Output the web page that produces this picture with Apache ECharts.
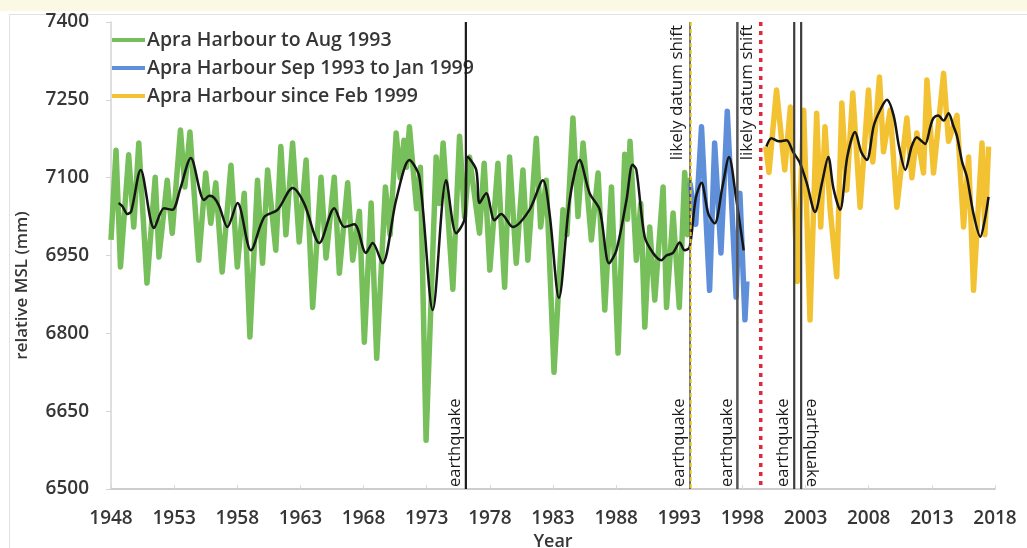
<!DOCTYPE html>
<html><head><meta charset="utf-8">
<script src="https://cdn.jsdelivr.net/npm/echarts@6/dist/echarts.min.js"></script>
<style>html,body{margin:0;padding:0;background:#fff}#c{width:1027px;height:548px}</style>
</head><body><div id="c"></div>
<script>
// ---------------- data ----------------
const X0 = 1948;
const xTickLabels = ['1948','1953','1958','1963','1968','1973','1978','1983','1988','1993','1998','2003','2008','2013','2018'];
const yTickLabels = ['6500','6650','6800','6950','7100','7250','7400'];
const seriesNames = ['Apra Harbour to Aug 1993','Apra Harbour Sep 1993 to Jan 1999','Apra Harbour since Feb 1999'];

const greenYears = [1948.0,1948.4,1948.75,1949.4,1949.8,1950.2,1950.85,1951.5,1951.8,1952.45,1952.85,1953.5,1953.85,1954.25,1954.95,1955.5,1955.9,1956.3,1956.8,1957.5,1958.0,1958.55,1959.0,1959.6,1960.0,1960.4,1961.05,1961.45,1961.85,1962.38,1962.9,1963.45,1963.97,1964.63,1965.03,1965.68,1966.08,1966.74,1967.14,1967.67,1968.06,1968.6,1969.04,1969.73,1970.1,1970.58,1970.9,1971.2,1971.4,1971.63,1972.2,1972.5,1972.95,1973.75,1974.0,1974.3,1975.07,1975.6,1976.0,1976.39,1977.18,1977.55,1978.0,1978.64,1979.17,1979.56,1980.09,1980.62,1981.01,1981.68,1982.02,1982.47,1983.08,1983.79,1984.1,1984.58,1984.98,1985.38,1986.04,1986.57,1987.1,1987.63,1988.15,1988.68,1988.9,1989.1,1989.6,1989.95,1990.27,1990.66,1991.06,1991.72,1991.99,1992.51,1993.0,1993.43,1993.65,1993.8];
const greenValues = [6980,7153,6928,7144,7005,7167,6897,7101,6947,7095,6993,7192,7082,7188,6941,7109,7012,7090,6918,7124,6928,7070,6793,7095,6935,7115,6960,7160,6990,7167,6976,7134,6850,7101,6945,7101,6916,7090,6941,7035,6783,7051,6752,7082,6990,7186,7100,7172,7120,7198,7040,7120,6594,7140,7050,7167,6885,7180,7024,7140,6993,7128,6922,7128,6889,7140,6935,7115,6941,7176,7005,7095,6725,7038,6990,7215,7025,7167,6980,7109,6845,7082,6762,7145,7020,7170,6941,7050,6812,7005,6864,7082,6850,7032,6850,7110,6990,7100];

const blueYears = [1993.85,1994.3,1994.76,1995.4,1995.8,1996.3,1996.8,1997.5,1997.8,1998.2,1998.35];
const blueValues = [7090,7010,7198,6883,7167,6955,7228,6870,7070,6826,6900];

const yellowYears = [1999.85,2000.1,2000.7,2001.35,2001.8,2002.35,2002.85,2003.35,2003.88,2004.2,2004.54,2004.94,2005.47,2005.87,2006.26,2006.74,2007.32,2007.98,2008.32,2008.85,2009.17,2009.7,2010.23,2011.02,2011.42,2011.81,2012.34,2012.61,2013.13,2013.93,2014.32,2014.99,2015.51,2015.91,2016.3,2016.97,2017.2,2017.49];
const yellowValues = [7160,7110,7269,7115,7236,6900,7230,6826,7224,7005,7198,7040,6909,7244,7076,7263,7043,7269,7130,7294,7150,7230,7043,7215,7100,7186,7109,7288,7109,7301,7170,7220,7005,7140,6883,7167,6990,7160];

const smoothYears = [1948.6,1948.9,1949.3,1949.6,1950.35,1951.41,1952.2,1952.86,1953.5,1954.32,1955.37,1955.8,1956.17,1956.57,1957.22,1958.02,1959.08,1960.13,1961.19,1962.38,1963.3,1964.5,1965.68,1966.47,1967.27,1968.19,1968.72,1969.5,1970.58,1971.63,1972.42,1973.48,1974.54,1975.33,1975.99,1976.25,1976.92,1977.18,1977.71,1978.37,1978.9,1979.82,1981.14,1982.2,1982.73,1983.47,1984.32,1985.11,1985.9,1986.7,1987.44,1988.02,1988.82,1989.3,1989.6,1990.26,1990.92,1991.58,1991.98,1992.5,1993.03,1993.43,1993.82,1994.3,1994.76,1995.3,1995.8,1996.4,1996.94,1997.5,1998.1,1999.0,1999.9,2000.3,2000.9,2001.5,2002.0,2002.56,2003.09,2003.75,2004.3,2004.8,2005.2,2005.73,2006.3,2006.92,2007.4,2007.85,2008.4,2008.9,2009.44,2009.97,2010.4,2010.9,2011.4,2011.81,2012.2,2012.47,2012.9,2013.13,2013.5,2013.93,2014.32,2014.7,2014.99,2015.4,2015.78,2016.3,2016.84,2017.2,2017.49];
const smoothValues = [7051,7045,7030,7035,7115,7003,7041,7038,7080,7138,7057,7065,7061,7045,7005,7051,6960,7024,7038,7080,7050,6974,7041,7005,7010,6955,6974,6935,7057,7134,7101,6845,7095,6993,7020,7140,7115,7051,7070,7018,7030,7005,7038,7095,7030,6868,7057,7134,7070,7038,6935,6960,7057,7125,7115,6986,6955,6941,6950,6955,6975,6960,6966,7060,7090,7030,7012,7080,7140,7060,6960,null,7160,7176,7170,7172,7150,7128,7090,7034,7090,7140,7080,7038,7140,7188,7150,7134,7200,7230,7250,7220,7160,7115,7160,7178,7170,7165,7200,7215,7220,7210,7224,7200,7180,7130,7101,7030,6986,7020,7063];

const quakeYears = [1976.1, 1993.85, 1997.6, 2002.1, 2002.65];
const quakeLabel = 'earthquake';
const datumYears = [1993.9, 1999.45];
const datumLabel = 'likely datum shift';

// ---------------- chart ----------------
const yMin = 6500, yMax = 7400, yStep = 150;
const pairs = (xs, ys) => xs.map((x, i) => [x - X0, ys[i] == null ? '-' : ys[i]]);
const FONT = '"Open Sans", "Liberation Sans", sans-serif';
const textColor = '#363636';

const quakeStyles = [
  {color: '#1a1a1a', width: 2.2, flip: false},
  {color: '#444', width: 1.5, flip: false},
  {color: '#555', width: 2.5, flip: false},
  {color: '#3c3c3c', width: 2.2, flip: false},
  {color: '#3c3c3c', width: 2.2, flip: true}
];
const datumStyles = [
  {color: '#e2c21a', width: 2, dash: [4, 3]},
  {color: '#e3263a', width: 3.5, dash: [4, 5]}
];

function renderQuake(params, api) {
  const i = params.dataIndex;
  const x = api.value(0);
  const top = api.coord([x, yMax]);
  const bot = api.coord([x, yMin]);
  const st = quakeStyles[i];
  return {
    type: 'group',
    children: [
      {type: 'line', shape: {x1: top[0], y1: top[1], x2: bot[0], y2: bot[1]},
       style: {stroke: st.color, lineWidth: st.width}},
      {type: 'text', x: top[0] + (st.flip ? 2 : -2), y: bot[1] - 2,
       rotation: st.flip ? -Math.PI / 2 : Math.PI / 2,
       style: {text: quakeLabel, font: '16.5px ' + FONT, fill: '#1a1a1a',
               align: st.flip ? 'right' : 'left', verticalAlign: 'bottom'}}
    ]
  };
}
function renderDatum(params, api) {
  const i = params.dataIndex;
  const x = api.value(0);
  const top = api.coord([x, yMax]);
  const bot = api.coord([x, yMin]);
  const st = datumStyles[i];
  return {
    type: 'group',
    children: [
      {type: 'line', shape: {x1: top[0], y1: top[1], x2: bot[0], y2: bot[1]},
       style: {stroke: st.color, lineWidth: st.width, lineDash: st.dash}},
      {type: 'text', x: top[0] - 5, y: top[1] + 3, rotation: Math.PI / 2,
       style: {text: datumLabel, font: '17px ' + FONT, fill: '#1a1a1a',
               align: 'right', verticalAlign: 'bottom'}}
    ]
  };
}

const rawLine = (name, xs, ys, color) => ({
  name, type: 'line', data: pairs(xs, ys), showSymbol: false, symbol: 'none',
  itemStyle: {color}, lineStyle: {color, width: 5.5, join: 'round'}, z: 2, silent: true
});

const chart = echarts.init(document.getElementById('c'));
chart.setOption({
  animation: false,
  backgroundColor: '#fff',
  graphic: [
    {type: 'rect', left: 0, top: 0, shape: {width: 1027, height: 11}, style: {fill: '#fbf8e4'}, z: -10},
    {type: 'rect', left: 7, top: 12, shape: {width: 1030, height: 545}, style: {fill: 'none', stroke: '#e2e2e2', lineWidth: 1}, z: -10}
  ],
  grid: {left: 111, right: 32, top: 22, bottom: 59, containLabel: false, outerBoundsMode: 'none'},
  legend: {
    data: seriesNames, orient: 'vertical', left: 112, top: 29, padding: 0,
    icon: 'rect', itemWidth: 33, itemHeight: 4, itemGap: 6,
    textStyle: {fontFamily: FONT, fontSize: 19.5, fontWeight: 600, color: textColor, lineHeight: 22, padding: [0, 0, 0, -3]}
  },
  xAxis: {
    type: 'value', min: 0, max: 70, interval: 5,
    name: 'Year', nameLocation: 'middle', nameGap: 43,
    nameTextStyle: {fontFamily: FONT, fontSize: 18, fontWeight: 600, color: textColor},
    axisLine: {show: true, lineStyle: {color: '#bdbdbd', width: 1.5}},
    axisTick: {show: true, inside: true, length: 4, lineStyle: {color: '#d8d8d8'}},
    axisLabel: {margin: 20, fontFamily: FONT, fontSize: 19, fontWeight: 600, color: textColor,
      formatter: v => xTickLabels[Math.round(v / 5)]},
    splitLine: {show: false}
  },
  yAxis: {
    type: 'value', min: yMin, max: yMax, interval: yStep,
    name: 'relative MSL (mm)', nameLocation: 'middle', nameGap: 80,
    nameTextStyle: {fontFamily: FONT, fontSize: 17, fontWeight: 600, color: textColor, padding: [0, 60, 0, 0]},
    axisLine: {show: true, lineStyle: {color: '#d4d4d4', width: 1.5}},
    axisTick: {show: true, length: 5, lineStyle: {color: '#d4d4d4'}},
    axisLabel: {margin: 22, fontFamily: FONT, fontSize: 19, fontWeight: 600, color: textColor,
      formatter: v => yTickLabels[Math.round((v - yMin) / yStep)]},
    splitLine: {show: false}
  },
  series: [
    rawLine(seriesNames[0], greenYears, greenValues, '#77bf5a'),
    rawLine(seriesNames[1], blueYears, blueValues, '#5f8fd9'),
    rawLine(seriesNames[2], yellowYears, yellowValues, '#f3c232'),
    {name: 'running mean', type: 'line', data: pairs(smoothYears, smoothValues), showSymbol: false, symbol: 'none',
     smooth: 0.3, connectNulls: false, lineStyle: {color: '#151515', width: 2.5}, itemStyle: {color: '#151515'}, z: 3, silent: true},
    {name: 'quakes', type: 'custom', coordinateSystem: 'cartesian2d', renderItem: renderQuake,
     data: quakeYears.map(y => [y - X0, yMax]), z: 4, silent: true},
    {name: 'datums', type: 'custom', coordinateSystem: 'cartesian2d', renderItem: renderDatum,
     data: datumYears.map(y => [y - X0, yMax]), z: 5, silent: true}
  ]
});
</script>
</body></html>
